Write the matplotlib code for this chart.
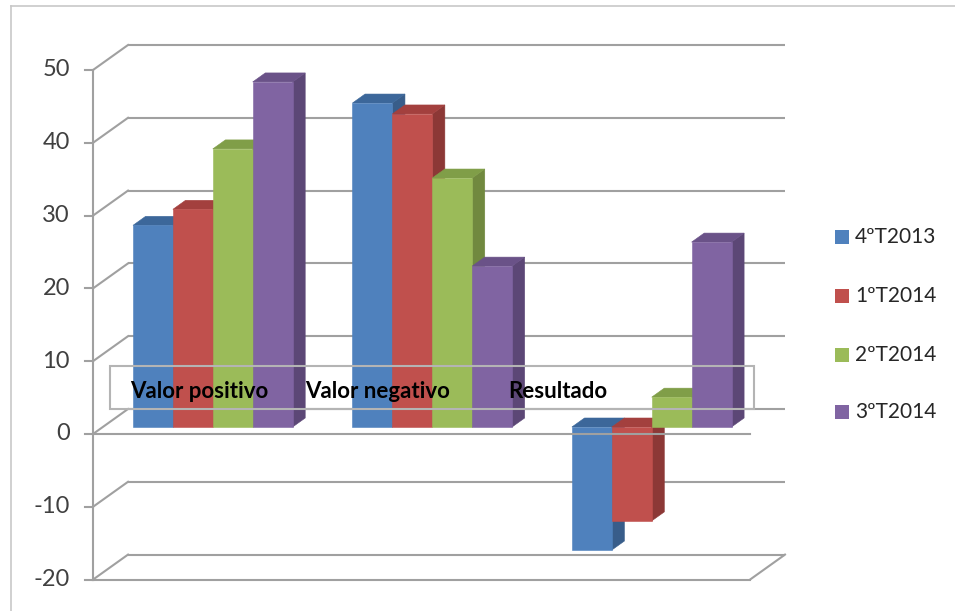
import matplotlib
matplotlib.use('Agg')
import matplotlib.pyplot as plt
from matplotlib.patches import Polygon, Rectangle

# ---------------- data ----------------
categories = ['Valor positivo', 'Valor negativo', 'Resultado']
series = ['4ºT2013', '1ºT2014', '2ºT2014', '3ºT2014']
v_4T2013 = [27.7, 44.5, -16.9]
v_1T2014 = [29.9, 43.0, -12.9]
v_2T2014 = [38.2, 34.2, 4.1]
v_3T2014 = [47.4, 22.1, 25.4]
values = [v_4T2013, v_1T2014, v_2T2014, v_3T2014]
yticks = [-20, -10, 0, 10, 20, 30, 40, 50]

# ---------------- styles ----------------
front_cols = ['#4F81BD', '#C0504D', '#9BBB59', '#8064A2']
top_cols = ['#3C679A', '#A3403E', '#809E48', '#6A5288']
side_cols = ['#385D8A', '#8C3836', '#71893F', '#5C4776']
grid_col = '#A0A0A0'
FONT = 'Lato'

W, H = 955, 611
fig = plt.figure(figsize=(W / 100, H / 100), dpi=100)
ax = fig.add_axes([0, 0, 1, 1])
SLOT, PXV, X0, Y0 = 39.9, 7.28, 123.2, 434.0
ax.set_xlim(-X0 / SLOT, (W - X0) / SLOT)
ax.set_ylim((Y0 - H) / PXV, Y0 / PXV)
ax.axis('off')

DX = 35 / SLOT
DY = 25 / PXV


def P(x, v, d):
    return (x + d * DX, v + d * DY)


def px(xp, yp):
    return ((xp - X0) / SLOT, (Y0 - yp) / PXV)


xl = px(93, 0)[0]
xr = px(750, 0)[0]
ymin, ymax = min(yticks), max(yticks)
lw = 1.5

# back wall gridlines + left-wall diagonals
for t in yticks:
    a, b = P(xl, t, 1), P(xr, t, 1)
    ax.plot([a[0], b[0]], [a[1], b[1]], color=grid_col, lw=lw, zorder=1,
            solid_capstyle='butt')
    a, b = P(xl, t, 0), P(xl, t, 1)
    ax.plot([a[0], b[0]], [a[1], b[1]], color=grid_col, lw=lw, zorder=1)
    # tick mark
    ax.plot([xl - 8 / SLOT, xl], [t, t], color=grid_col, lw=lw, zorder=1)
    tx, _ = px(70, 0)
    ax.text(tx, t, f'{t}', ha='right', va='center', fontsize=17,
            family=FONT, color='#404040')

# front vertical axis
ax.plot([xl, xl], [ymin, ymax], color=grid_col, lw=lw, zorder=1)
# floor front edge and right diagonal
a, b = P(xl, ymin, 0), P(xr, ymin, 0)
ax.plot([a[0], b[0]], [a[1], b[1]], color=grid_col, lw=lw, zorder=1)
a, b = P(xr, ymin, 0), P(xr, ymin, 1)
ax.plot([a[0], b[0]], [a[1], b[1]], color=grid_col, lw=lw, zorder=1)

# bars
d0, d1 = 0.28, 0.64
GROUP = 5.5
z = 2
for g in range(len(categories)):
    for s in range(len(series)):
        v = values[s][g]
        x = g * GROUP + s
        lo, hi = min(0, v), max(0, v)
        front = [P(x, lo, d0), P(x + 1, lo, d0), P(x + 1, hi, d0), P(x, hi, d0)]
        top = [P(x, hi, d0), P(x + 1, hi, d0), P(x + 1, hi, d1), P(x, hi, d1)]
        side = [P(x + 1, lo, d0), P(x + 1, lo, d1), P(x + 1, hi, d1), P(x + 1, hi, d0)]
        ax.add_patch(Polygon(side, closed=True, fc=side_cols[s], ec=side_cols[s], lw=0.4, zorder=z))
        ax.add_patch(Polygon(top, closed=True, fc=top_cols[s], ec=top_cols[s], lw=0.4, zorder=z))
        ax.add_patch(Polygon(front, closed=True, fc=front_cols[s], ec=front_cols[s], lw=0.4, zorder=z))
        z += 0.01

# front category axis line at 0
a, b = P(xl, 0, 0), P(xr, 0, 0)
ax.plot([a[0], b[0]], [a[1], b[1]], color=grid_col, lw=lw, zorder=5)

# category label box
bx0, by0 = px(110, 409)
bx1, by1 = px(754, 366)
ax.add_patch(Rectangle((bx0, by0), bx1 - bx0, by1 - by0, fill=False,
                       ec='#B4B4B4', lw=1.5, zorder=6))
cx0, cy0 = px(110, 400)
clip = Rectangle((cx0, cy0), bx1 - bx0, by1 - cy0, transform=ax.transData,
                 fill=False, visible=False)
ax.add_patch(clip)
label_px = [130, 305, 508]
for lab, lx in zip(categories, label_px):
    tx, ty = px(lx, 398)
    t = ax.text(tx, ty, lab, ha='left', va='baseline', fontsize=16,
                fontweight='bold', family=FONT, color='black', zorder=7)
    t.set_clip_path(clip)

# legend
leg_y = [237, 296, 355, 412]
for s, ly in enumerate(leg_y):
    qx, qy = px(835, ly + 7)
    qx1, qy1 = px(849, ly - 7)
    ax.add_patch(Rectangle((qx, qy), qx1 - qx, qy1 - qy, fc=front_cols[s],
                           ec='none', zorder=6))
    tx, ty = px(855, ly)
    ax.text(tx, ty, series[s], ha='left', va='center', fontsize=15,
            family=FONT, color='#262626')

# outer border
fig.add_artist(plt.Line2D([11 / W, 11 / W], [0, 1 - 6 / H], color='#C8C8C8',
                          lw=1.2, transform=fig.transFigure))
fig.add_artist(plt.Line2D([11 / W, 1], [1 - 6 / H, 1 - 6 / H], color='#C8C8C8',
                          lw=1.2, transform=fig.transFigure))

fig.savefig('out.png', dpi=100, facecolor='white')
